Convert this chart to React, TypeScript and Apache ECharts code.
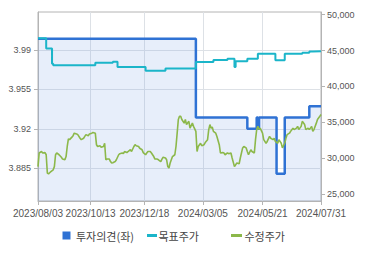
import React, { useEffect, useRef } from "react";
import * as echarts from "echarts";

// Korean market holidays (weekdays closed) in the period
const holidays = [
  "2023/08/15", "2023/09/28", "2023/09/29", "2023/10/02", "2023/10/03", "2023/10/09",
  "2023/12/25", "2023/12/29", "2024/01/01", "2024/02/09", "2024/02/12", "2024/03/01",
  "2024/04/10", "2024/05/01", "2024/05/06", "2024/05/15", "2024/06/06",
];

function tradingDays(): string[] {
  const out: string[] = [];
  const end = Date.UTC(2024, 6, 31);
  for (let t = Date.UTC(2023, 7, 3); t <= end; t += 86400000) {
    const d = new Date(t);
    const wd = d.getUTCDay();
    if (wd === 0 || wd === 6) continue;
    const s =
      d.getUTCFullYear() + "/" + String(d.getUTCMonth() + 1).padStart(2, "0") + "/" +
      String(d.getUTCDate()).padStart(2, "0");
    if (holidays.includes(s)) continue;
    out.push(s);
  }
  return out;
}

const categories = tradingDays();
const labelDates = ["2023/08/03", "2023/10/13", "2023/12/18", "2024/03/05", "2024/05/21", "2024/07/31"];
const leftTicks = [3.885, 3.92, 3.955, 3.99];
const rightTicks = [25000, 30000, 35000, 40000, 45000, 50000];

// 투자의견(좌) — change points (trading-day index, value)
const opinionIdx = [0, 135, 179, 187, 188, 189, 204, 211, 232, 242];
const opinionVal = [4.0, 3.93, 3.92, 3.93, 3.92, 3.93, 3.88, 3.93, 3.94, 3.94];

// 목표주가 — change points
const targetIdx = [0, 7, 12, 13, 49, 64, 68, 92, 109, 135, 150, 162, 168, 169, 179, 188, 203, 211, 226, 232, 235, 242];
const targetVal = [46700, 45300, 43150, 42950, 43300, 43450, 42700, 42200, 42500, 43400, 43700, 43850, 42700, 43500, 43850, 44550, 43650, 44550, 44700, 44850, 44900, 44900];

// 수정주가
const priceIdx = [
  0, 1, 3, 4, 6, 7, 8, 9, 10, 11, 13, 14, 15, 16, 18, 20, 21, 23, 24, 25, 26, 27, 29, 30, 31, 33, 34, 36, 37, 39,
  40, 41, 43, 44, 46, 47, 49, 50, 51, 53, 54, 56, 57, 58, 59, 61, 62, 63, 64, 66, 67, 69, 70, 72, 73, 74, 76, 77, 79,
  80, 82, 83, 84, 86, 87, 89, 90, 92, 93, 94, 96, 97, 99, 100, 102, 103, 105, 106, 107, 109, 110, 111, 112, 113, 114,
  115, 117, 118, 119, 120, 121, 122, 123, 125, 126, 127, 129, 130, 132, 133, 135, 136, 137, 139, 140, 142, 143, 145,
  146, 147, 148, 149, 150, 152, 153, 155, 156, 158, 159, 160, 162, 163, 165, 166, 168, 169, 170, 172, 173, 175, 176,
  178, 179, 180, 182, 183, 185, 186, 187, 188, 189, 190, 192, 193, 195, 196, 198, 199, 201, 202, 203, 205, 206, 208,
  209, 211, 212, 213, 215, 216, 218, 219, 221, 222, 223, 225, 226, 228, 229, 231, 232, 234, 235, 236, 238, 239, 241, 242,
];
const priceVal = [
  28850, 30750, 30950, 30750, 30800, 30500, 27950, 27850, 28000, 28150, 28400, 28850, 30500, 30750, 30500, 30150, 29900,
  29800, 30250, 31650, 32700, 32600, 32950, 33150, 33500, 33400, 33300, 32800, 32600, 32800,
  33050, 33300, 33150, 33400, 33500, 33600, 33500, 31900, 31650, 31750, 31550, 31650, 32100, 29800, 29900, 29900, 29550,
  29350, 29400, 29550, 29800, 30500, 30650, 30750, 30650, 30950, 30800, 30950, 31200,
  30950, 31650, 31900, 31750, 31650, 31400, 31200, 30800, 30500, 30750, 30950, 30950, 30750, 30250, 29900, 29900, 29800,
  29550, 29900, 30150, 30050, 29800, 28850, 28650, 29350, 29800,
  30250, 30500, 31650, 33500, 35400, 35850, 35850, 35400, 34900, 35400, 34700, 35150, 34200, 34900, 34450, 33750, 30950,
  31650, 32100, 31750, 31900, 32200, 32600,
  34000, 34700, 34200, 34350, 33750, 33500, 33050, 31900, 30750, 30800, 30750, 30500, 30750, 30650, 30750, 30050, 28850,
  29100, 29350, 29250, 30050, 31450, 31650,
  31450, 30950, 30500, 31200, 30950, 30750, 32600, 34000, 34450, 34000, 34200, 33500, 32600, 32100, 32350, 33050, 32800,
  32600, 32800, 32350, 32100, 32600, 32100,
  31450, 32100, 32800, 33300, 33500, 33750, 34200, 34000, 34200, 34450, 34000, 34450, 35150, 34700, 34000, 34200, 34000,
  34450, 33750, 34000, 34900, 35400, 35850, 36100,
];

const BLUE = "#2f72d4";
const CYAN = "#1bb5c9";
const GREEN = "#8cb84a";

export default function App() {
  const ref = useRef<HTMLDivElement>(null);
  useEffect(() => {
    if (!ref.current) return;
    const chart = echarts.init(ref.current, undefined, { renderer: "svg" });
    const isLabel = (_i: number, v: string) => labelDates.includes(v);
    chart.setOption({
      animation: false,
      grid: { left: 38, right: 49, top: 12, bottom: 54, show: true, borderColor: "#b4b4b4", borderWidth: 1 },
      xAxis: {
        type: "category",
        data: categories,
        boundaryGap: false,
        axisLine: { lineStyle: { color: "#b4b4b4" } },
        axisTick: { interval: isLabel, length: 4, lineStyle: { color: "#b4b4b4" } },
        axisLabel: {
          interval: isLabel,
          color: "#555",
          fontSize: 10,
          fontFamily: "Liberation Sans",
          margin: 7,
          hideOverlap: false,
        },
        splitLine: { show: true, interval: isLabel, lineStyle: { color: "#dde1e6" } },
      },
      yAxis: [
        {
          type: "value",
          position: "left",
          min: 3.8558,
          max: 4.0239,
          axisLine: { show: true, lineStyle: { color: "#b4b4b4" } },
          axisTick: { show: true, length: 4, customValues: leftTicks, lineStyle: { color: "#b4b4b4" } },
          axisLabel: {
            customValues: leftTicks,
            color: "#555",
            fontSize: 9,
            fontFamily: "Liberation Sans",
            margin: 7,
            formatter: (v: number) => String(+v.toFixed(3)),
          },
          splitLine: { show: true, lineStyle: { color: "#dde1e6" } },
        },
        {
          type: "value",
          position: "right",
          min: 24065,
          max: 50363,
          axisLine: { show: true, lineStyle: { color: "#b4b4b4" } },
          axisTick: { show: true, length: 4, customValues: rightTicks, lineStyle: { color: "#b4b4b4" } },
          axisLabel: {
            customValues: rightTicks,
            color: "#555",
            fontSize: 9,
            fontFamily: "Liberation Sans",
            margin: 6,
            formatter: (v: number) => Math.round(v).toLocaleString("en-US"),
          },
          splitLine: { show: false },
        },
      ],
      series: [
        {
          name: "투자의견(좌)",
          type: "line",
          yAxisIndex: 0,
          step: "end",
          symbol: "none",
          data: opinionIdx.map((x, i) => [x, opinionVal[i]]),
          lineStyle: { color: BLUE, width: 2.5 },
          itemStyle: { color: BLUE },
          areaStyle: { color: "rgba(120,160,225,0.26)", origin: "start" },
          z: 2,
        },
        {
          name: "목표주가",
          type: "line",
          yAxisIndex: 1,
          step: "end",
          symbol: "none",
          data: targetIdx.map((x, i) => [x, targetVal[i]]),
          lineStyle: { color: CYAN, width: 2 },
          itemStyle: { color: CYAN },
          z: 3,
        },
        {
          name: "수정주가",
          type: "line",
          yAxisIndex: 1,
          symbol: "none",
          data: priceIdx.map((x, i) => [x, priceVal[i]]),
          lineStyle: { color: GREEN, width: 1.6 },
          itemStyle: { color: GREEN },
          z: 4,
        },
      ],
      graphic: [
        { type: "rect", shape: { x: 62.5, y: 231.5, width: 8, height: 8 }, style: { fill: BLUE } },
        {
          type: "text", x: 76, y: 235.5,
          style: { text: "투자의견(좌)", fontSize: 11, fontFamily: "Noto Sans CJK KR", fill: "#444", verticalAlign: "middle" },
        },
        { type: "line", shape: { x1: 147, y1: 235.5, x2: 157, y2: 235.5 }, style: { stroke: CYAN, lineWidth: 3 } },
        {
          type: "text", x: 158.5, y: 235.5,
          style: { text: "목표주가", fontSize: 11, fontFamily: "Noto Sans CJK KR", fill: "#444", verticalAlign: "middle" },
        },
        { type: "line", shape: { x1: 231, y1: 235.5, x2: 242, y2: 235.5 }, style: { stroke: GREEN, lineWidth: 3 } },
        {
          type: "text", x: 244.5, y: 235.5,
          style: { text: "수정주가", fontSize: 11, fontFamily: "Noto Sans CJK KR", fill: "#444", verticalAlign: "middle" },
        },
      ],
    });
    return () => chart.dispose();
  }, []);
  return (
    <div
      ref={ref}
      style={{ position: "fixed", left: 0, top: 0, width: 370, height: 255, background: "#fff" }}
    />
  );
}
